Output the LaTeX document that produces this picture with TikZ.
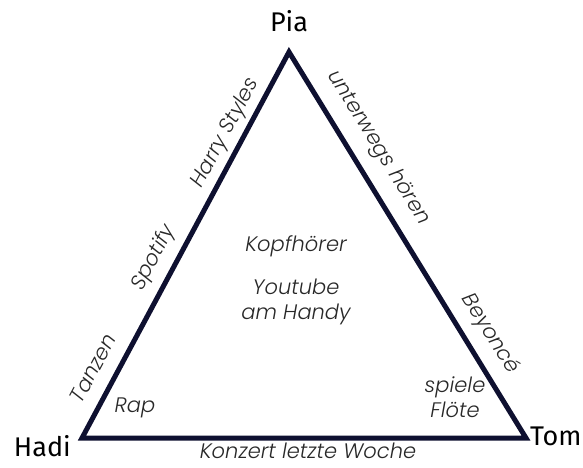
\documentclass[tikz,border=0pt]{standalone}
\usepackage{fontspec}
\setmainfont{Fira Sans}
\newfontfamily\labfont{Poppins Light Italic}
\definecolor{navy}{RGB}{14,16,48}
\definecolor{labgrey}{RGB}{40,40,40}
\begin{document}
\begin{tikzpicture}[x=1pt,y=-1pt,
  person/.style={font=\fontsize{27}{30}\selectfont, inner sep=0pt, text=black},
  lab/.style={font=\labfont\fontsize{21}{25}\selectfont, inner sep=0pt, text=labgrey, align=center},
  edge/.style={draw=navy, line width=5pt, line join=miter}]
\useasboundingbox (0,0) rectangle (583,468);
\coordinate (P) at (289,52);
\coordinate (H) at (82,438);
\coordinate (T) at (526,438);
\draw[edge] (P) -- (H) -- (T) -- cycle;
\node[person, anchor=base] (pia) at (289,31.5) {Pia};
\node[person, anchor=base east] (hadi) at (71,456) {Hadi};
\node[person, anchor=base west] (tom) at (530,445) {Tom};
% left edge
\node[lab, rotate=61.8] (tanzen) at (93,368) {Tanzen};
\node[lab, rotate=61.8] (spotify) at (154,258) {Spotify};
\node[lab, rotate=61.8] (harry) at (226,133) {Harry Styles};
% right edge
\node[lab, rotate=-58.45] (unterwegs) at (378,148) {unterwegs hören};
\node[lab, rotate=-58.45] (beyonce) at (490,334) {Beyoncé};
% bottom edge
\node[lab] (konzert) at (308,451) {Konzert letzte Woche};
% inside
\node[lab] (kopf) at (296,246) {Kopfhörer};
\node[lab] (youtube) at (296,302) {Youtube\\am Handy};
\node[lab] (rap) at (135,408) {Rap};
\node[lab] (floete) at (455,397) {spiele\\Flöte};
\end{tikzpicture}
\end{document}
